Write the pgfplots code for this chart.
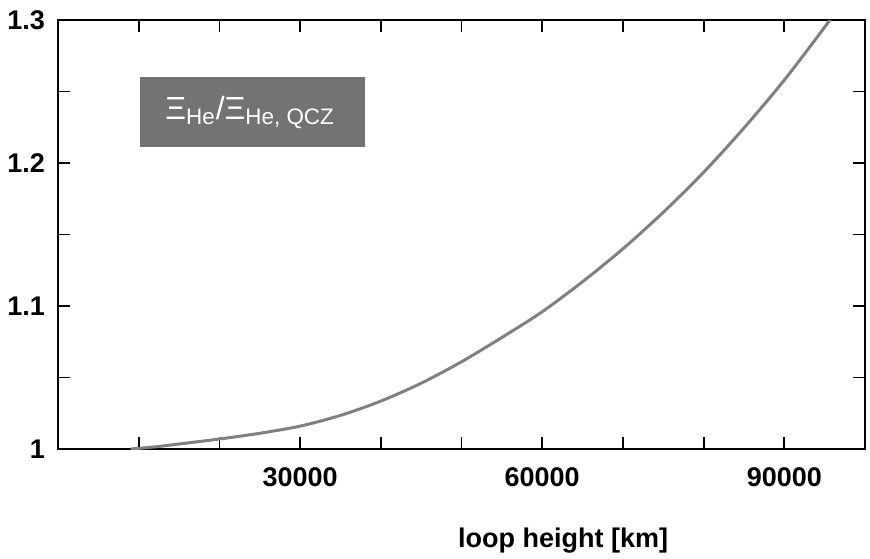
\documentclass[border=0pt]{standalone}
\usepackage{fontspec}
\setmainfont{Liberation Sans}
\usepackage{pgfplots}
\pgfplotsset{compat=1.18}
\usetikzlibrary{calc}

\begin{document}
\begin{tikzpicture}
\begin{axis}[
  name=ax,
  scale only axis,
  width=403.5pt, height=214.5pt,
  xmin=0, xmax=100000, ymin=1, ymax=1.3,
  axis line style={line width=1pt},
  tick style={line width=0.9pt, black},
  major tick length=6pt,
  tick align=inside,
  xtick={10000,20000,...,90000},
  xticklabels={,,30000,,,60000,,,90000},
  scaled x ticks=false,
  ytick={1,1.05,1.1,1.15,1.2,1.25,1.3},
  yticklabels={1,,1.1,,1.2,,1.3},
  ticklabel style={font=\bfseries\fontsize{13.5}{15}\selectfont},
  xticklabel style={yshift=-6pt},
  yticklabel style={xshift=-3pt},
  xlabel={loop height [km]},
  xlabel style={font=\bfseries\fontsize{13.5}{15}\selectfont,
    at={(axis description cs:0.626,0)}, anchor=north, yshift=-36pt},
]
% shaded label box
\fill[black!55] (axis cs:10100,1.211) rectangle (axis cs:38000,1.260);
\node[text=white, font=\fontsize{16}{18}\selectfont] at (axis cs:23800,1.2355)
  {Ξ\textsubscript{He}/Ξ\textsubscript{He, QCZ}};

\addplot[black!50, line width=1.5pt, smooth] coordinates {
  (9000,1.000) (12000,1.0015) (15000,1.0035) (20000,1.007) (25000,1.011)
  (30000,1.016) (35000,1.0235) (40000,1.0335) (45000,1.046) (50000,1.061)
  (55000,1.078) (60000,1.096) (65000,1.117) (70000,1.140) (75000,1.1655)
  (80000,1.1935) (85000,1.2245) (90000,1.258) (95000,1.295) (95600,1.300)
};
\end{axis}
\pgfresetboundingbox
\path[use as bounding box] ($(ax.south west)+(-29pt,-54.5pt)$) rectangle ($(ax.north east)+(2.5pt,10pt)$);
\end{tikzpicture}
\end{document}
